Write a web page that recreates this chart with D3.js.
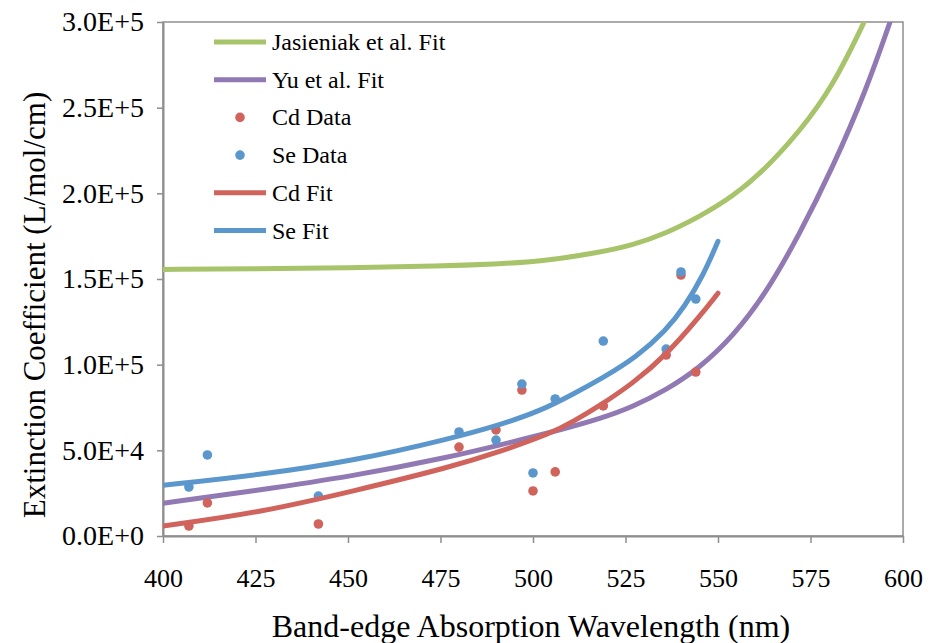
<!DOCTYPE html>
<html>
<head>
<meta charset="utf-8">
<script src="https://cdn.jsdelivr.net/npm/d3@7"></script>
<style>
  html, body { margin: 0; padding: 0; background: #fff; }
  svg { display: block; font-family: "Liberation Serif", "Times New Roman", serif; }
</style>
</head>
<body>
<svg id="chart" width="929" height="643"></svg>
<script>
// Measured quantum-dot samples: band-edge wavelength (nm) and extinction coefficient (L/mol/cm)
const sampleWavelengths = [407, 412, 442, 480, 490, 497, 500, 506, 519, 536, 540, 544];
const cdData = [5800, 19300, 7000, 51900, 61900, 85200, 26300, 37400, 75900, 105600, 152300, 95700];
const seData = [28600, 47300, 23300, 60700, 56000, 88700, 36800, 80000, 113800, 109100, 154100, 138300];

// Fitted curves, sampled along wavelength
const jasWl  = [400, 425, 450, 475, 490, 502, 518, 527, 536, 545, 554, 563, 572, 581, 589.5];
const jasVal = [155600, 155900, 156500, 157600, 158800, 160100, 165500, 169800, 176700, 186400, 198000, 214600, 236000, 262200, 300000];
const yuWl   = [400, 426, 451, 478, 491, 505, 519, 527, 536, 545, 554, 563, 572, 581, 590, 596.5];
const yuVal  = [19100, 26800, 34800, 46300, 53100, 60500, 69000, 75500, 85200, 98000, 116300, 141700, 176000, 215000, 260000, 300000];
const cdFitWl  = [400, 426, 452, 478, 491, 505, 511, 518, 527, 536, 545, 550];
const cdFitVal = [5800, 13600, 26500, 40400, 49200, 60000, 67000, 76000, 89100, 105600, 128000, 141700];
const seFitWl  = [400, 426, 452, 478, 491, 502, 511, 519, 528, 536, 541, 546, 550];
const seFitVal = [29600, 35600, 44000, 57000, 64800, 73000, 83000, 92500, 104500, 120000, 134000, 152000, 172000];

// Axis ticks
const xTicks = [400, 425, 450, 475, 500, 525, 550, 575, 600];
const yTicks = [0, 50000, 100000, 150000, 200000, 250000, 300000];

const colors = {
  jas: "#a7c46a",
  yu: "#9179b3",
  cd: "#d0635b",
  se: "#5b97cc"
};

const svg = d3.select("#chart");
const margin = { top: 22, right: 26, bottom: 107, left: 163 };
const W = 929, H = 643;
const iw = W - margin.left - margin.right;
const ih = H - margin.top - margin.bottom;

const x = d3.scaleLinear().domain([400, 600]).range([0, iw]);
const y = d3.scaleLinear().domain([0, 300000]).range([ih, 0]);

const g = svg.append("g").attr("transform", `translate(${margin.left},${margin.top})`);

g.append("defs").append("clipPath").attr("id", "plotClip")
  .append("rect").attr("x", 0).attr("y", 0).attr("width", iw).attr("height", ih);

// Plot frame
g.append("rect")
  .attr("x", 0).attr("y", 0).attr("width", iw).attr("height", ih)
  .attr("fill", "none").attr("stroke", "#8e8e8e").attr("stroke-width", 1.5);

function sciFormat(v) {
  if (v === 0) return "0.0E+0";
  const e = Math.floor(Math.log10(v));
  const m = v / Math.pow(10, e);
  return m.toFixed(1) + "E+" + e;
}

const serif = "Liberation Serif, Times New Roman, serif";

// Y axis
const yAxis = g.append("g")
  .call(d3.axisLeft(y).tickValues(yTicks).tickFormat(sciFormat).tickSize(6).tickSizeOuter(0).tickPadding(13));
yAxis.select(".domain").attr("stroke", "#8e8e8e").attr("stroke-width", 2);
yAxis.selectAll(".tick line").attr("stroke", "#8e8e8e").attr("stroke-width", 1.5);
yAxis.selectAll(".tick text").attr("font-size", 28).attr("fill", "#000").attr("font-family", serif);

// X axis
const xAxis = g.append("g").attr("transform", `translate(0,${ih})`)
  .call(d3.axisBottom(x).tickValues(xTicks).tickFormat(d3.format("d")).tickSize(7).tickSizeOuter(0));
xAxis.select(".domain").attr("stroke", "#8e8e8e").attr("stroke-width", 2);
xAxis.selectAll(".tick line").attr("stroke", "#8e8e8e").attr("stroke-width", 1.5);
xAxis.selectAll(".tick text").attr("font-size", 26).attr("fill", "#000")
  .attr("y", 51).attr("dy", 0).attr("font-family", serif);

// Axis titles
svg.append("text")
  .attr("x", margin.left + iw / 2 - 2).attr("y", 637)
  .attr("text-anchor", "middle").attr("font-size", 32).attr("fill", "#000")
  .text("Band-edge Absorption Wavelength (nm)");

svg.append("text")
  .attr("transform", "translate(45,305) rotate(-90)")
  .attr("text-anchor", "middle").attr("font-size", 31).attr("fill", "#000")
  .text("Extinction Coefficient (L/mol/cm)");

// Curves and points
const plot = g.append("g").attr("clip-path", "url(#plotClip)");

function drawCurve(wl, vals, color) {
  const pts = wl.map((w, i) => [w, vals[i]]);
  plot.append("path")
    .datum(pts)
    .attr("fill", "none")
    .attr("stroke", color)
    .attr("stroke-width", 5)
    .attr("stroke-linecap", "round")
    .attr("d", d3.line().x(d => x(d[0])).y(d => y(d[1])).curve(d3.curveBasis));
}

function drawPoints(wl, vals, color) {
  plot.append("g").selectAll("circle")
    .data(wl.map((w, i) => [w, vals[i]]))
    .join("circle")
    .attr("cx", d => x(d[0]))
    .attr("cy", d => y(d[1]))
    .attr("r", 4.8)
    .attr("fill", color);
}

drawCurve(jasWl, jasVal, colors.jas);
drawCurve(yuWl, yuVal, colors.yu);
drawPoints(sampleWavelengths, cdData, colors.cd);
drawPoints(sampleWavelengths, seData, colors.se);
drawCurve(cdFitWl, cdFitVal, colors.cd);
drawCurve(seFitWl, seFitVal, colors.se);

// Legend
const legendItems = [
  { label: "Jasieniak et al. Fit", color: colors.jas, type: "line" },
  { label: "Yu et al. Fit", color: colors.yu, type: "line" },
  { label: "Cd Data", color: colors.cd, type: "dot" },
  { label: "Se Data", color: colors.se, type: "dot" },
  { label: "Cd Fit", color: colors.cd, type: "line" },
  { label: "Se Fit", color: colors.se, type: "line" }
];

const legend = svg.append("g");
legendItems.forEach((item, i) => {
  const cy = 42 + i * 37.7;
  if (item.type === "line") {
    legend.append("line")
      .attr("x1", 214).attr("x2", 266).attr("y1", cy).attr("y2", cy)
      .attr("stroke", item.color).attr("stroke-width", 5);
  } else {
    legend.append("circle").attr("cx", 240).attr("cy", cy).attr("r", 4.8).attr("fill", item.color);
  }
  legend.append("text")
    .attr("x", 272).attr("y", cy + 8)
    .attr("font-size", 24).attr("fill", "#000")
    .text(item.label);
});
</script>
</body>
</html>
